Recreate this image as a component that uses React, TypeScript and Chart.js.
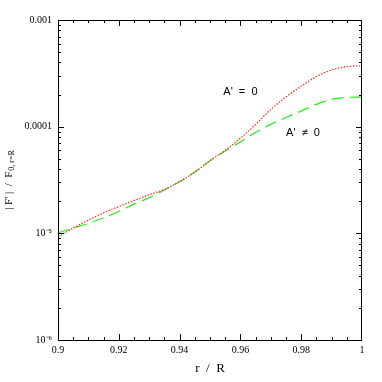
import React, { useEffect, useRef } from "react";
import { Chart, registerables } from "chart.js";

Chart.register(...registerables);

const rValues = [0.9, 0.905, 0.91, 0.915, 0.92, 0.925, 0.93, 0.935, 0.94, 0.945, 0.95, 0.955, 0.96, 0.965, 0.97, 0.975, 0.98, 0.985, 0.99, 0.995, 1.0];
const fluxA0 = [9.25e-6, 1.12e-5, 1.33e-5, 1.56e-5, 1.78e-5, 2.03e-5, 2.3e-5, 2.58e-5, 3.05e-5, 3.75e-5, 4.8e-5, 6.0e-5, 7.8e-5, 1.05e-4, 1.45e-4, 1.9e-4, 2.4e-4, 2.95e-4, 3.4e-4, 3.65e-4, 3.72e-4];
const fluxAnot0 = [1.01e-5, 1.12e-5, 1.24e-5, 1.4e-5, 1.6e-5, 1.88e-5, 2.15e-5, 2.55e-5, 3.05e-5, 3.75e-5, 4.8e-5, 5.9e-5, 7.2e-5, 8.8e-5, 1.05e-4, 1.22e-4, 1.4e-4, 1.62e-4, 1.8e-4, 1.88e-4, 1.9e-4];

const xTickValues = [0.9, 0.92, 0.94, 0.96, 0.98, 1.0];
const xTickLabels = ["0.9", "0.92", "0.94", "0.96", "0.98", "1"];
const xMinorStep = 0.005;
const yTickValues = [1e-6, 1e-5, 1e-4, 1e-3];
const yTickLabels = ["10⁻⁶", "10⁻⁵", "0.0001", "0.001"];
const annotations = [
  { text: "A'  =  0", r: 0.96, f: 2.1e-4 },
  { text: "A'  ≠  0", r: 0.9806, f: 8.7e-5 },
];

const framePlugin = {
  id: "frame",
  afterDatasetsDraw(chart: any) {
    const { ctx, chartArea: a, scales } = chart;
    const xs = scales.x;
    const ys = scales.y;
    ctx.save();
    ctx.strokeStyle = "#000";
    ctx.lineWidth = 1;
    ctx.strokeRect(a.left + 0.5, a.top + 0.5, a.right - a.left - 1, a.bottom - a.top);
    ctx.beginPath();
    const n = Math.round((1.0 - 0.9) / xMinorStep);
    for (let i = 1; i < n; i++) {
      const v = 0.9 + i * xMinorStep;
      const major = xTickValues.some((t) => Math.abs(t - v) < 1e-9);
      const len = major ? 6 : 3;
      const px = Math.round(xs.getPixelForValue(v)) + 0.5;
      ctx.moveTo(px, a.bottom);
      ctx.lineTo(px, a.bottom - len);
      ctx.moveTo(px, a.top);
      ctx.lineTo(px, a.top + len);
    }
    for (let d = -6; d < -3; d++) {
      for (let m = 1; m <= 9; m++) {
        const v = m * Math.pow(10, d);
        const len = m === 1 ? 6 : 3;
        const py = Math.round(ys.getPixelForValue(v)) + 0.5;
        ctx.moveTo(a.left, py);
        ctx.lineTo(a.left + len, py);
        ctx.moveTo(a.right, py);
        ctx.lineTo(a.right - len, py);
      }
    }
    ctx.stroke();

    ctx.fillStyle = "#000";
    ctx.font = "11px 'Liberation Sans', sans-serif";
    ctx.textAlign = "center";
    ctx.textBaseline = "middle";
    for (const an of annotations) {
      ctx.fillText(an.text, xs.getPixelForValue(an.r), ys.getPixelForValue(an.f));
    }

    ctx.font = "13px 'Liberation Serif', serif";
    ctx.fillText("r  /  R", (a.left + a.right) / 2, 369);

    ctx.translate(9, (a.top + a.bottom) / 2);
    ctx.rotate(-Math.PI / 2);
    ctx.font = "11px 'Liberation Serif', serif";
    const main = "| F' |  /  F";
    const sub = "0, r=R";
    ctx.textAlign = "left";
    const w1 = ctx.measureText(main).width;
    ctx.font = "8px 'Liberation Serif', serif";
    const w2 = ctx.measureText(sub).width;
    const total = w1 + w2 + 1;
    ctx.font = "11px 'Liberation Serif', serif";
    ctx.fillText(main, -total / 2, 0);
    ctx.font = "8px 'Liberation Serif', serif";
    ctx.fillText(sub, -total / 2 + w1 + 1, 3);
    ctx.restore();
  },
};

export default function App() {
  const ref = useRef<HTMLCanvasElement>(null);
  useEffect(() => {
    document.body.style.margin = "0";
    const chart = new Chart(ref.current!, {
      type: "line",
      data: {
        datasets: [
          {
            label: "A' = 0",
            data: rValues.map((r, i) => ({ x: r, y: fluxA0[i] })),
            borderColor: "#ff2a1a",
            borderWidth: 1.2,
            borderDash: [1.5, 1.5],
            pointRadius: 0,
            cubicInterpolationMode: "monotone",
            fill: false,
          },
          {
            label: "A' ≠ 0",
            data: rValues.map((r, i) => ({ x: r, y: fluxAnot0[i] })),
            borderColor: "#22ee22",
            borderWidth: 1.2,
            borderDash: [12, 6],
            pointRadius: 0,
            cubicInterpolationMode: "monotone",
            fill: false,
          },
        ],
      },
      options: {
        animation: false,
        responsive: false,
        events: [],
        layout: { padding: { left: 0, top: 20, right: 20, bottom: 0 } },
        plugins: { legend: { display: false }, tooltip: { enabled: false } },
        scales: {
          x: {
            type: "linear",
            min: 0.9,
            max: 1.0,
            afterBuildTicks: (s: any) => {
              s.ticks = xTickValues.map((v) => ({ value: v }));
            },
            afterFit: (s: any) => {
              s.height = 42;
            },
            ticks: {
              color: "#000",
              font: { family: "'Liberation Serif', serif", size: 10 },
              padding: 4,
              maxRotation: 0,
              autoSkip: false,
              callback: (v: any) => {
                const i = xTickValues.findIndex((t) => Math.abs(t - v) < 1e-9);
                return i >= 0 ? xTickLabels[i] : "";
              },
            },
            grid: { display: false, drawTicks: false },
            border: { display: false },
          },
          y: {
            type: "logarithmic",
            min: 1e-6,
            max: 1e-3,
            afterBuildTicks: (s: any) => {
              s.ticks = yTickValues.map((v) => ({ value: v }));
            },
            afterFit: (s: any) => {
              s.width = 58;
            },
            ticks: {
              color: "#000",
              font: { family: "'Liberation Serif', serif", size: 10 },
              padding: 6,
              autoSkip: false,
              callback: (v: any) => {
                const i = yTickValues.findIndex((t) => Math.abs(t - v) / t < 1e-6);
                return i >= 0 ? yTickLabels[i] : "";
              },
            },
            grid: { display: false, drawTicks: false },
            border: { display: false },
          },
        },
      },
      plugins: [framePlugin],
    } as any);
    return () => chart.destroy();
  }, []);
  return <canvas ref={ref} width={382} height={382} style={{ display: "block" }} />;
}
